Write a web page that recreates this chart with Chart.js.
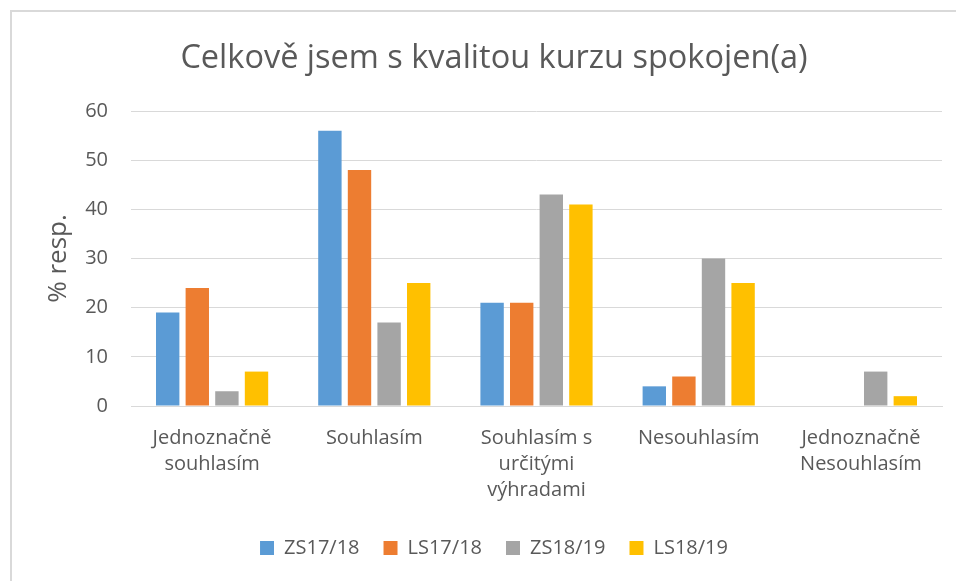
<!DOCTYPE html>
<html>
<head>
<meta charset="utf-8">
<script src="https://cdn.jsdelivr.net/npm/chart.js@4.4.0/dist/chart.umd.min.js"></script>
<style>
  html, body { margin: 0; padding: 0; background: #fff; }
  #wrap { width: 956px; height: 581px; position: relative; }
</style>
</head>
<body>
<div id="wrap"><canvas id="c" width="956" height="581"></canvas></div>
<script>
const chartTitle = "Celkově jsem s kvalitou kurzu spokojen(a)";
const categories = [
  ["Jednoznačně", "souhlasím"],
  "Souhlasím",
  ["Souhlasím s", "určitými", "výhradami"],
  "Nesouhlasím",
  ["Jednoznačně", "Nesouhlasím"]
];
const seriesNames = ["ZS17/18", "LS17/18", "ZS18/19", "LS18/19"];
const zs1718 = [19, 56, 21, 4, 0];
const ls1718 = [24, 48, 21, 6, 0];
const zs1819 = [3, 17, 43, 30, 7];
const ls1819 = [7, 25, 41, 25, 2];
const colors = ["#5B9BD5", "#ED7D31", "#A5A5A5", "#FFC000"];
const yAxisTitle = "% resp.";

const FONT = "'Open Sans', 'Liberation Sans', sans-serif";
const TXT = "#595959";

const borderPlugin = {
  id: "frame",
  beforeDraw(chart) {
    const ctx = chart.ctx;
    ctx.save();
    ctx.fillStyle = "#fff";
    ctx.fillRect(0, 0, chart.width, chart.height);
    ctx.strokeStyle = "#d9d9d9";
    ctx.lineWidth = 2;
    ctx.beginPath();
    ctx.moveTo(11, chart.height);
    ctx.lineTo(11, 11);
    ctx.lineTo(chart.width, 11);
    ctx.stroke();
    ctx.restore();
  }
};

const data = [zs1718, ls1718, zs1819, ls1819];
new Chart(document.getElementById("c"), {
  type: "bar",
  data: {
    labels: categories,
    datasets: seriesNames.map((n, i) => ({
      label: n,
      data: data[i],
      backgroundColor: colors[i],
      borderWidth: 0,
      barPercentage: 0.79,
      categoryPercentage: 0.73
    }))
  },
  options: {
    responsive: false,
    animation: false,
    devicePixelRatio: 1,
    layout: { padding: { left: 46, right: 14, top: 39, bottom: 13 } },
    plugins: {
      title: {
        display: true,
        text: chartTitle,
        color: TXT,
        font: { family: FONT, size: 32.5, weight: "normal" },
        padding: { top: 0, bottom: 33 }
      },
      legend: {
        position: "bottom",
        labels: {
          color: TXT,
          font: { family: FONT, size: 20 },
          boxWidth: 14,
          boxHeight: 14,
          padding: 24
        }
      },
      tooltip: { enabled: false }
    },
    scales: {
      x: {
        grid: { display: false, drawTicks: false },
        border: { display: true, color: "#d9d9d9", width: 1 },
        ticks: { color: TXT, font: { family: FONT, size: 20, lineHeight: 1.3 }, padding: 19, maxRotation: 0, autoSkip: false },
        afterFit(scale) { scale.height -= 8; }
      },
      y: {
        min: 0, max: 60,
        ticks: { stepSize: 10, color: TXT, font: { family: FONT, size: 20 }, padding: 23 },
        grid: { color: "#d9d9d9", lineWidth: 1, drawTicks: false },
        border: { display: false },
        title: { display: true, text: yAxisTitle, color: TXT, font: { family: FONT, size: 26, lineHeight: 1.0 }, padding: 0 },
        afterFit(scale) { scale.width = 85; }
      }
    }
  },
  plugins: [borderPlugin]
});
</script>
</body>
</html>
